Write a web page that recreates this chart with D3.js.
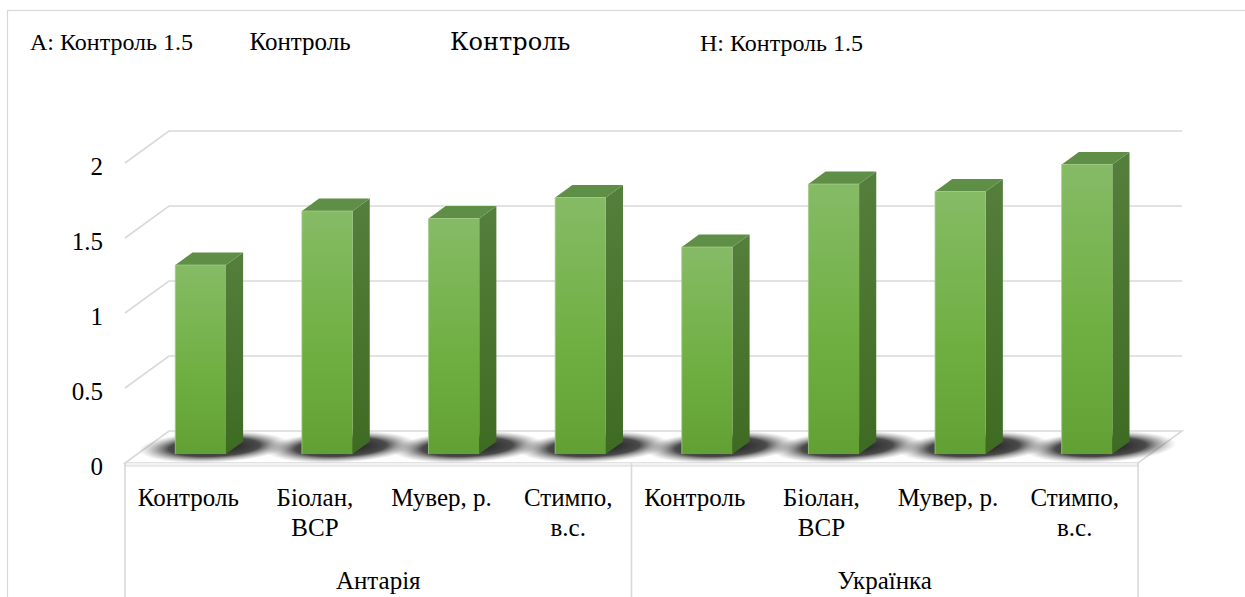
<!DOCTYPE html>
<html><head><meta charset="utf-8">
<script src="https://cdn.jsdelivr.net/npm/d3@7"></script>
</head><body>
<svg id="c" width="1245" height="597" style="position:absolute;left:0;top:0"></svg>
<div id="h" style="position:absolute;left:700px;top:30px;font-family:'Liberation Serif';font-size:24px">H: Контроль 1.5</div>
<script>
const groups = ["Антарія", "Українка"];
const treatments = [["Контроль"], ["Біолан,", "ВСР"], ["Мувер, р."], ["Стимпо,", "в.с."]];
const values = [1.26, 1.62, 1.57, 1.71, 1.38, 1.80, 1.75, 1.93];
const yTicks = [0, 0.5, 1, 1.5, 2];

const svg = d3.select("#c");
const FONT = "Liberation Serif";

// diagnostics
svg.append("text").attr("x", 30).attr("y", 50).style("font-family", "Liberation Serif").attr("font-size", 24).text("A: Контроль 1.5");
svg.append("text").attr("x", 300).attr("y", 50).style("font-family", "Liberation Serif").attr("font-size", 25).attr("text-anchor", "middle").text("Контроль");
svg.append("text").attr("x", 450).attr("y", 50).style("font-family", "DejaVu Serif").attr("font-size", 24).text("Контроль");

// layout
const x0 = 125, x1 = 1138, floorY = 463;
const DX = 44, DY = -32;
const t0 = 0.28, t1 = 0.67;
const cats = [];
groups.forEach((g, gi) => treatments.forEach((t, ti) => cats.push({ g, gi, ti, lines: t })));
const xBand = d3.scaleBand().domain(d3.range(cats.length)).range([x0, x1]).paddingInner(0.6).paddingOuter(0.3);
const xFull = d3.scaleBand().domain(d3.range(cats.length)).range([x0, x1]);
const y = d3.scaleLinear().domain([0, 2]).range([floorY, floorY - 300]);
const P = (x, yy, t) => [x + t * DX, yy + t * DY];

const addText = (x, yy, s, anchor) => svg.append("text").attr("x", x).attr("y", yy).attr("text-anchor", anchor)
  .style("font-family", FONT).attr("font-size", 25).text(s);
yTicks.forEach(v => addText(103, y(v) + 12, String(v), "end"));
cats.forEach((c, i) => {
  const cx = xFull(i) + xFull.bandwidth() / 2;
  c.lines.forEach((l, li) => addText(cx, 506 + li * 30, l, "middle"));
});
groups.forEach((g, gi) => addText(x0 + (x1 - x0) / 4 * (2 * gi + 1), 589, g, "middle"));

const defs = svg.append("defs");
const gf = defs.append("linearGradient").attr("id", "gFront").attr("x1", 0).attr("y1", 0).attr("x2", 0).attr("y2", 1);
gf.append("stop").attr("offset", 0).attr("stop-color", "#86bb66");
gf.append("stop").attr("offset", 0.55).attr("stop-color", "#70b043");
gf.append("stop").attr("offset", 1).attr("stop-color", "#62a033");
const gs = defs.append("linearGradient").attr("id", "gSide").attr("x1", 0).attr("y1", 0).attr("x2", 0).attr("y2", 1);
gs.append("stop").attr("offset", 0).attr("stop-color", "#557f3c");
gs.append("stop").attr("offset", 1).attr("stop-color", "#3e6b22");
const gr = defs.append("radialGradient").attr("id", "gShadow");
gr.append("stop").attr("offset", 0).attr("stop-color", "#111").attr("stop-opacity", 1);
gr.append("stop").attr("offset", 0.6).attr("stop-color", "#2a2a2a").attr("stop-opacity", 0.85);
gr.append("stop").attr("offset", 1).attr("stop-color", "#888").attr("stop-opacity", 0);

svg.append("rect").attr("x", 7.5).attr("y", 10.5).attr("width", 1300).attr("height", 700)
  .attr("fill", "none").attr("stroke", "#d9d9d9").attr("stroke-width", 1.2);

const grid = svg.append("g").attr("stroke", "#d9d9d9").attr("stroke-width", 1.6).attr("fill", "none");
yTicks.forEach(v => {
  const a = P(x0, y(v), 0), b = P(x0, y(v), 1), c = P(x1, y(v), 1);
  if (v > 0) grid.append("path").attr("d", `M${a}L${b}L${c}`);
});
const f1 = P(x0, floorY, 0), f2 = P(x0, floorY, 1), f3 = P(x1, floorY, 1), f4 = P(x1, floorY, 0);
svg.append("path").attr("d", `M${f1}L${f2}L${f3}L${f4}Z`).attr("fill", "#fff").attr("stroke", "#d9d9d9").attr("stroke-width", 1.6);
svg.append("path").attr("d", `M${x0},${floorY}L${x0},${floorY + 3}L${x1},${floorY + 3}L${x1},${floorY}`)
  .attr("fill", "#f2f2f2").attr("stroke", "#d9d9d9").attr("stroke-width", 1.2);

const sh = svg.append("g");
cats.forEach((c, i) => {
  const bx = xBand(i), bw = xBand.bandwidth();
  const [cx, cy] = P(bx + bw / 2 + 4, floorY, 0.5);
  sh.append("ellipse").attr("cx", 0).attr("cy", 0).attr("rx", 74).attr("ry", 16)
    .attr("transform", `translate(${cx},${cy}) skewX(-45)`)
    .attr("fill", "url(#gShadow)");
});

const bars = svg.append("g");
cats.forEach((c, i) => {
  const v = values[i];
  const bx = xBand(i), bw = xBand.bandwidth();
  const fl = P(bx, y(v), t0), fr = P(bx + bw, y(v), t0);
  const flb = P(bx, y(0), t0), frb = P(bx + bw, y(0), t0);
  const bl = P(bx, y(v), t1), br = P(bx + bw, y(v), t1), brb = P(bx + bw, y(0), t1);
  bars.append("path").attr("d", `M${fr}L${br}L${brb}L${frb}Z`).attr("fill", "url(#gSide)");
  bars.append("path").attr("d", `M${fl}L${bl}L${br}L${fr}Z`).attr("fill", "#5f8f47");
  bars.append("rect").attr("x", fl[0]).attr("y", fl[1]).attr("width", bw).attr("height", flb[1] - fl[1])
    .attr("fill", "url(#gFront)");
  bars.append("path").attr("d", `M${flb}L${fl}L${fr}`).attr("fill", "none").attr("stroke", "#9fcb84").attr("stroke-width", 1).attr("opacity", 0.8);
});

const ax = svg.append("g").attr("stroke", "#d9d9d9").attr("stroke-width", 1.6);
[x0, (x0 + x1) / 2, x1].forEach(xx => ax.append("line").attr("x1", xx).attr("x2", xx).attr("y1", floorY).attr("y2", 600));
</script>
</body></html>
